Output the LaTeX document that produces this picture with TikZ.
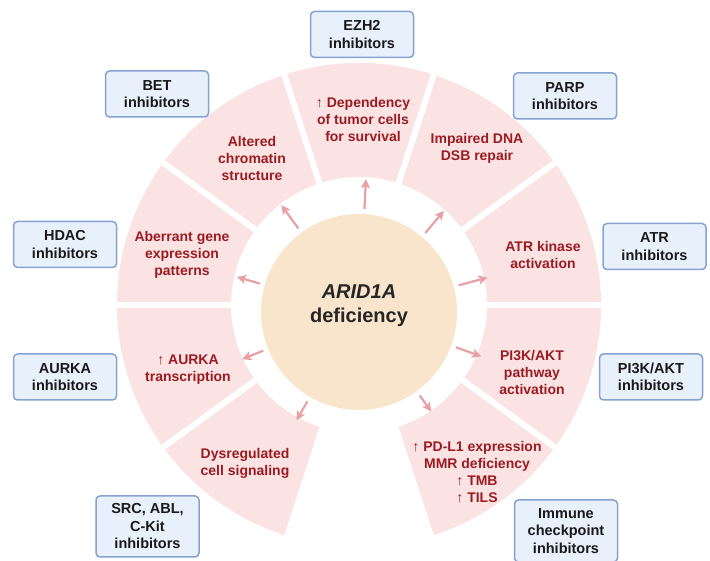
\documentclass[tikz,border=0pt]{standalone}
\usepackage{fontspec}
\setmainfont{Liberation Sans}
\usetikzlibrary{arrows.meta,calc}
\definecolor{segfill}{HTML}{FBE3E3}
\definecolor{segtext}{HTML}{9C1B22}
\definecolor{arrcol}{HTML}{E8A0A4}
\definecolor{circfill}{HTML}{F9E5CB}
\definecolor{boxfill}{HTML}{E8F0FB}
\definecolor{boxdraw}{HTML}{86A2D2}
\begin{document}
\begin{tikzpicture}[x=1pt,y=1pt,
  inhib/.style={draw=boxdraw, fill=boxfill, line width=1.5pt, rounded corners=4pt,
    minimum width=103pt, minimum height=46pt, align=center, inner sep=2pt,
    font=\fontsize{14.5}{17.5}\selectfont\bfseries, text=black!90},
  segtxt/.style={align=center, text=segtext, inner sep=0pt,
    font=\fontsize{14}{17}\selectfont\bfseries},
  conn/.style={draw=arrcol, line width=2.2pt, -{Stealth[length=9pt,width=9pt,inset=2pt]}, shorten <=5pt}
]
\useasboundingbox (0,0) rectangle (710,561);
\coordinate (R) at (359,256);
% ring of segments
\fill[segfill] ($(R)+(288:128pt)$) -- ($(R)+(288:242pt)$)
  arc[start angle=288, end angle=612, radius=242pt]
  -- ($(R)+(252:128pt)$) arc[start angle=252, end angle=-72, radius=128pt] -- cycle;
\foreach \a in {-36,0,36,72,108,144,180,216}
  \draw[white, line width=6pt] ($(R)+(\a:118pt)$) -- ($(R)+(\a:252pt)$);
% central circle
\node[circle, fill=circfill, minimum size=196pt, inner sep=0pt] (def) at (359,249) {};
\node[align=center, inner sep=0pt, font=\fontsize{20}{24}\selectfont\bfseries, text={black!85}] (deftxt) at (359,255) {\textit{ARID1A}\\deficiency};
% segment texts
\node[segtxt] (s1) at (363,441) {↑ Dependency\\of tumor cells\\for survival};
\node[segtxt] (s2) at (252,402) {Altered\\chromatin\\structure};
\node[segtxt] (s3) at (182,306) {Aberrant gene\\expression\\patterns};
\node[segtxt] (s4) at (188,191) {↑ AURKA\\transcription};
\node[segtxt] (s5) at (245,98) {Dysregulated\\cell signaling};
\node[segtxt] (s6) at (477,89) {↑ PD-L1 expression\\MMR deficiency\\↑ TMB\\↑ TILS};
\node[segtxt] (s7) at (532,188) {PI3K/AKT\\pathway\\activation};
\node[segtxt] (s8) at (543,305.5) {ATR kinase\\activation};
\node[segtxt] (s9) at (477,413) {Impaired DNA\\DSB repair};
% arrows
\foreach \a/\d in {87/133,126/132,164/127,202/126,240/125,306/123,340/130,15/133,50/132}{
  \coordinate (tip\a) at ($(def.center)+(\a:\d pt)$);
  \draw[conn] (def.\a) -- (tip\a);
}
% inhibitor boxes
\node[inhib] (b1) at (362,526.5) {EZH2\\inhibitors};
\node[inhib] (b2) at (157,467) {BET\\inhibitors};
\node[inhib] (b3) at (565,465) {PARP\\inhibitors};
\node[inhib] (b4) at (65,316.5) {HDAC\\inhibitors};
\node[inhib] (b5) at (654.5,314.5) {ATR\\inhibitors};
\node[inhib] (b6) at (65,184) {AURKA\\inhibitors};
\node[inhib] (b7) at (651,184) {PI3K/AKT\\inhibitors};
\node[inhib, minimum height=61pt] (b8) at (147.5,34.5) {SRC, ABL,\\C-Kit\\inhibitors};
\node[inhib, minimum height=62pt] (b9) at (566,30) {Immune\\checkpoint\\inhibitors};
\end{tikzpicture}
\end{document}
